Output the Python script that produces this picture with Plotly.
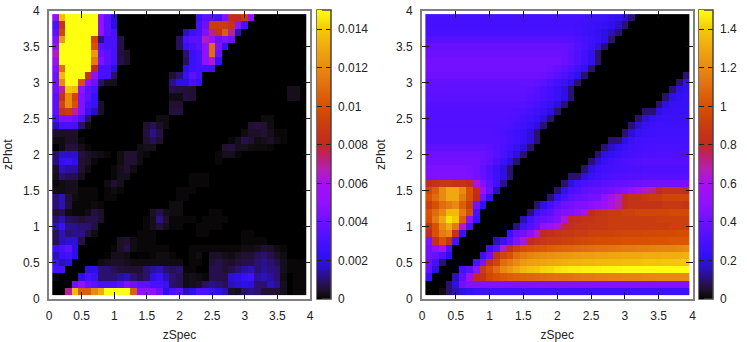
import plotly.graph_objects as go

zspec = [0.1, 0.2, 0.3, 0.4, 0.5, 0.6, 0.7, 0.8, 0.9, 1.0, 1.1, 1.2, 1.3, 1.4, 1.5, 1.6, 1.7, 1.8, 1.9, 2.0,
         2.1, 2.2, 2.3, 2.4, 2.5, 2.6, 2.7, 2.8, 2.9, 3.0, 3.1, 3.2, 3.3, 3.4, 3.5, 3.6, 3.7, 3.8, 3.9]
zphot = zspec[::-1]  # rows below are listed from the top of the plot down

# left panel, in units of 0.001; trailing zeros are left off
left_rows = [
    [5,13.5,15,15,15,15,15,5,3.5,2,0,0,0,0,0,0,0,0,0,0,0,0,2.5,3.5,3.5,3,4.5,8,8,9,5],
    [3,8.5,15,15,15,15,15,5,3.5,2,0,0,0,0,0,0,0,0,0,0,0,0,3,4,9,9,9,8.5,5,3],
    [3.5,9.5,15,15,15,15,15,5,3.5,3,0,0,0,0,0,0,0,0,0,0,1.5,2.5,3,4.5,7,8.5,10.5,7,1.5],
    [4.5,12.5,15,15,15,15,9.5,1.2,3,3,.7,0,0,0,0,0,0,0,0,.8,3,3.5,3.5,6.5,5.5,4,4.5,4],
    [5,15,15,15,15,15,10,3.5,3,3,.7,0,0,0,0,0,0,0,0,.8,2.5,3,3.5,5,11,4.5,2.5],
    [6.5,15,15,15,15,15,12.5,4,3.5,3,.6,.4,0,0,0,0,0,0,0,0,1,2.5,3,5,11,4],
    [5.5,15,15,15,15,15,11.5,4.5,3.5,3,.7,.4,0,0,0,0,0,0,0,0,.8,2.5,3,5,6.5,2.5],
    [4.5,11,15,15,15,15,8,3,3,2,0,0,0,0,0,0,0,0,0,0,2,2.5,2.8,2.8,2.8],
    [4,13.5,15,15,15,8.5,5,3,3,1,0,0,0,0,0,0,0,0,.5,1,2.3,3.5,3],
    [4,12,15,15,10,5,4,1,.3,.3,0,0,0,0,0,0,0,0,1.2,2,2,3,2.5],
    [4,7,14,13.5,5,3.5,3,0,0,0,0,0,0,0,0,0,0,0,.7,.6,.6,.5,0,0,0,0,0,0,0,0,0,0,0,0,0,0,.3,.3],
    [3.5,8.5,12,9.5,4.5,3.5,2.5,0,0,0,0,0,0,0,0,0,0,0,.2,.2,.6,.5,0,0,0,0,0,0,0,0,0,0,0,0,0,0,.3,.3],
    [3.5,9.5,12,10,4.5,3,2.5,.4,0,0,0,0,0,0,0,0,0,0,.5,.5],
    [3.5,8.5,9,7,4.5,2.5,1.5,.4,0,0,0,0,0,0,0,0,0,0,.6,.6],
    [3,4.5,4.5,4,3,1,0,0,0,0,0,0,0,0,0,0,.2,.2,0,0,0,0,0,0,0,0,0,0,0,0,0,0,.15,.15],
    [1.5,3,3,2.8,1,.2,0,0,0,0,0,0,0,0,.5,.8,.4,.2,0,0,0,0,0,0,0,0,0,0,0,0,.5,.6,.5,.2],
    [.4,.4,.4,.4,0,0,0,0,0,0,0,0,0,0,.6,1.2,.7,0,0,0,0,0,0,0,0,0,0,0,0,.2,.4,.4,.5,.3,.1,.1],
    [.2,.2,.4,.4,.1,0,0,0,0,0,0,0,0,0,.5,.8,.5,0,0,0,0,0,0,0,0,0,0,.1,.3,.7,.5,.2,.3,.4,.2,.1],
    [0,.2,.6,.6,.3,.1,0,0,0,0,0,0,0,.2,.3,.3,0,0,0,0,0,0,0,0,0,0,.5,.6,.3,.3,.2,.15,.15,.1],
    [1,1.7,1.7,1.7,.6,.4,.3,.2,.1,0,.2,.5,.5,.2,.1,0,0,0,0,0,0,0,0,0,0,.1,.3,.3,.1],
    [1,2.2,2.5,2,.5,.4,.1,0,0,0,.2,.5,.5,.2,0,0,0,0,0,0,0,0,0,0,0,.1],
    [.4,1.5,1.3,1.3,.5,.2,0,0,0,.1,.3,.5,.2],
    [.3,1,.7,.7,.3,0,0,0,0,.1,.3,.3,0,0,0,0,0,0,0,0,0,.1,.1,.1],
    [.1,.2,.3,.3,0,0,0,0,.2,.5,.3,0,0,0,0,0,0,0,0,0,0,.1,.1,.1],
    [.2,.2,.3,.3,.1,.1,.1,0,.1,.2,.1,0,0,0,0,0,0,0,0,.1,.1,.1],
    [1,1.5,.5,.2,.1,.1,.1,0,.1,.1,0,0,0,0,0,0,0,0,0,.1,.1],
    [1,1.5,.6,.1,.1,.1,.15,.1,0,0,0,0,0,0,0,0,0,0,.2,.2],
    [.5,.7,.2,.1,.1,.2,.6,.4,0,0,0,0,0,0,0,.4,.7,.3,.2,.2,0,0,0,0,.1,.1],
    [1,1.5,.8,.7,.5,.7,.7,.4,0,0,0,0,0,0,.1,.3,1.2,.5,.1,.1,.1,.1,0,.1,.1,.1,.1],
    [1.5,2.5,1.2,1.2,1,1,.6,0,0,0,0,0,0,0,.1,.3,.6,.3,.1,.1,0,0,.1,.1,.1,.1],
    [.8,1.5,1,1.2,1.2,.6,.2,0,0,0,0,0,0,.1,.1,.1,0,0,0,0,0,0,.1,.1,0,0,0,0,0,.1,.1],
    [.8,1.5,1.8,1.8,.7,0,0,0,0,0,.4,.5,.2,.1,.1,.1,0,0,0,0,0,0,0,0,0,0,0,0,0,.1,.1,.1,.1],
    [2.5,3,3.5,2,0,0,0,0,0,.1,.4,.7,.2,.1,.1,.1,.1,.1,0,0,0,.1,.1,.1,.1,.1,.1,.1,.1,.2,.2,.3,.5,.4,.2,.1],
    [1.5,2.5,2.8,2,0,0,0,0,.05,.3,.3,.2,0,.05,.05,.1,.2,.2,.1,0,0,.1,.2,0,.4,.4,.3,.2,.4,.5,.5,.8,1,.7,.4,.2],
    [2.5,1.5,2,0,0,0,0,.2,.3,.4,.4,.3,.2,.2,.2,.2,.2,.2,.2,.2,0,.1,.1,0,.5,.7,.5,.4,.6,.7,.7,1,1.2,1,.7,.3,.1,.1,.1],
    [3,3,0,0,0,2,2,1,1,.8,.6,.5,.5,.5,1,1.3,1.5,1,.8,1,.1,.1,0,0,.7,.7,.5,.7,1,1.3,1.5,1,1.3,1.1,1,.3,.1,.1,.1],
    [.1,0,0,0,2,3,2.5,1,1,1,1.3,1.5,1,.7,1,2,2.5,1.5,1,.8,.2,.3,.2,.1,.7,.7,.7,1.8,2,2.3,2.8,1.3,1.5,1.3,1,.2,0,.1,.1],
    [0,0,0,4,5,4,3.5,3,3,3,3.5,4.5,4,3.5,3.5,3,3,2.5,1,.8,.2,.3,.4,.9,1.2,1,.8,1.5,1.8,2,1.8,1,1,1.5,1.2,.3,0,.1,.1],
    [0,0,7,13.5,10.5,10.5,12,13,15,15,15,15,10.5,5,5,5,4,2,3,3.5,1.5,2,3,3,2.5,2,1.5,.4,.3,1,1.2,1,.5,.5,.5,.3,0,.1,.1],
]

# right panel, same row order
right_rows = [
    [.29,.29,.29,.29,.29,.29,.29,.29,.29,.29,.29,.29,.29,.29,.29,.29,.29,.29,.29,.29,.29,.29,.29,.28,.27,.27,.26,.24,.22,.18,.1],
    [.29,.29,.29,.29,.29,.29,.29,.29,.29,.29,.29,.29,.29,.29,.29,.29,.29,.29,.29,.29,.29,.29,.28,.27,.26,.25,.24,.21,.17,.1],
    [.3,.3,.3,.3,.3,.3,.3,.3,.3,.3,.3,.3,.3,.3,.3,.3,.3,.3,.3,.3,.3,.3,.29,.27,.25,.23,.2,.15,.1],
    [.34,.34,.34,.34,.34,.34,.34,.34,.34,.34,.34,.34,.34,.34,.34,.34,.34,.34,.34,.34,.34,.33,.31,.29,.27,.24,.2,.1],
    [.38,.38,.38,.38,.38,.38,.38,.38,.38,.38,.38,.38,.38,.38,.38,.38,.38,.38,.38,.38,.38,.36,.33,.3,.26,.2,.1],
    [.4,.4,.4,.4,.4,.4,.4,.4,.4,.4,.4,.4,.4,.4,.4,.4,.4,.4,.4,.4,.38,.35,.32,.28,.22,.1],
    [.41,.41,.41,.41,.41,.41,.41,.41,.41,.41,.41,.41,.41,.41,.41,.41,.41,.41,.41,.41,.39,.36,.32,.28,.22,.1],
    [.41,.41,.41,.41,.41,.41,.41,.41,.41,.41,.41,.41,.41,.41,.41,.41,.41,.41,.4,.38,.35,.32,.28,.22,.1],
    [.4,.4,.4,.4,.4,.4,.4,.4,.4,.4,.4,.4,.4,.4,.4,.4,.4,.39,.37,.34,.31,.27,.21,.1,0,0,0,0,0,0,0,0,0,0,0,0,0,0,.1],
    [.37,.37,.37,.37,.37,.37,.37,.37,.37,.37,.37,.37,.37,.37,.37,.37,.36,.35,.32,.29,.26,.2,.1,0,0,0,0,0,0,0,0,0,0,0,0,0,0,.1,.22],
    [.36,.36,.36,.36,.36,.36,.36,.36,.36,.36,.36,.36,.36,.36,.36,.35,.34,.31,.28,.25,.2,.1,0,0,0,0,0,0,0,0,0,0,0,0,0,0,.1,.2,.22],
    [.35,.35,.35,.35,.35,.35,.35,.35,.35,.35,.35,.35,.35,.35,.35,.34,.33,.31,.28,.25,.2,.1,0,0,0,0,0,0,0,0,0,0,0,0,0,.1,.2,.22,.24],
    [.34,.34,.34,.34,.34,.34,.34,.34,.34,.34,.34,.34,.34,.34,.33,.32,.3,.27,.24,.19,.1,0,0,0,0,0,0,0,0,0,0,0,0,0,.1,.2,.24,.24,.24],
    [.33,.33,.33,.33,.33,.33,.33,.33,.33,.33,.33,.33,.33,.32,.31,.29,.27,.24,.19,.1,0,0,0,0,0,0,0,0,0,0,0,0,.1,.1,.2,.24,.25,.25,.25],
    [.33,.33,.33,.33,.33,.33,.33,.33,.33,.33,.33,.33,.32,.31,.29,.27,.24,.19,.1,0,0,0,0,0,0,0,0,0,0,0,0,.1,.18,.22,.25,.26,.26,.26,.26],
    [.32,.32,.32,.32,.32,.32,.32,.32,.32,.32,.32,.32,.31,.29,.27,.24,.19,.1,0,0,0,0,0,0,0,0,0,0,0,0,.1,.18,.24,.26,.27,.27,.27,.27,.27],
    [.33,.33,.33,.33,.33,.33,.33,.33,.33,.33,.32,.31,.29,.27,.24,.19,.1,0,0,0,0,0,0,0,0,0,0,0,0,.1,.18,.24,.27,.27,.28,.28,.28,.28,.28],
    [.33,.33,.33,.33,.33,.33,.33,.33,.33,.33,.33,.32,.3,.28,.24,.19,.1,0,0,0,0,0,0,0,0,0,0,.1,.1,.2,.25,.28,.28,.29,.29,.29,.29,.29,.29],
    [.36,.36,.36,.36,.36,.36,.36,.36,.36,.35,.33,.31,.28,.24,.19,.1,0,0,0,0,0,0,0,0,0,0,.1,.17,.22,.25,.28,.29,.3,.3,.3,.3,.3,.3,.3],
    [.4,.4,.4,.4,.4,.4,.4,.4,.39,.37,.34,.3,.25,.19,.1,0,0,0,0,0,0,0,0,0,0,.1,.2,.22,.25,.28,.29,.3,.31,.31,.32,.32,.32,.32,.32],
    [.42,.42,.42,.42,.42,.42,.42,.41,.39,.36,.31,.26,.19,.1,0,0,0,0,0,0,0,0,0,0,.1,.18,.24,.28,.3,.31,.32,.33,.34,.34,.34,.34,.34,.34,.34],
    [.44,.44,.44,.44,.44,.44,.43,.41,.37,.32,.26,.19,.1,0,0,0,0,0,0,0,0,0,0,.1,.2,.25,.28,.29,.3,.3,.31,.31,.32,.32,.32,.32,.32,.32,.32],
    [.45,.45,.45,.45,.45,.45,.44,.42,.38,.33,.27,.2,.1,0,0,0,0,0,0,0,0,.1,.1,.2,.25,.28,.3,.31,.32,.32,.33,.33,.34,.34,.34,.34,.34,.34,.34],
    [.8,.85,.88,.88,.85,.85,.8,.62,.45,.35,.28,.12,0,0,0,0,0,0,0,0,.1,.2,.27,.3,.32,.33,.35,.36,.37,.38,.39,.4,.41,.42,.42,.42,.42,.42,.42],
    [.95,1.05,1.2,1.3,1.3,1.2,1,.82,.55,.38,.15,0,0,0,0,0,0,0,0,.1,.22,.3,.32,.35,.38,.38,.4,.42,.45,.48,.55,.6,.65,.7,.8,.85,.85,.85,.82],
    [1,1.1,1.2,1.3,1.3,1.15,1,.8,.42,.22,0,0,0,0,0,0,0,0,.1,.22,.3,.35,.38,.4,.42,.42,.5,.6,.65,.8,.85,.85,.88,.9,.9,.95,.95,.95,.95],
    [.9,1,1.1,1.15,1.2,1.05,.9,.42,.22,0,0,0,0,0,0,0,.1,.2,.28,.35,.4,.42,.45,.45,.48,.5,.55,.62,.68,.8,.85,.85,.85,.85,.85,.88,.88,.88,.85],
    [1,1.1,1.2,1.35,1.35,1.15,.98,.3,0,0,0,0,0,0,0,.1,.25,.32,.35,.42,.45,.45,.5,.6,.8,.85,.88,.9,.9,.92,.92,.95,.95,.95,.95,.95,.97,.97,.97],
    [.98,1.15,1.3,1.45,1.4,1.05,.5,.25,0,0,0,0,0,0,.15,.28,.35,.38,.42,.45,.62,.8,.82,.85,.85,.88,.88,.9,.9,.9,.9,.9,.9,.9,.92,.92,.92,.92,.92],
    [.85,1,1.2,1.3,1.15,.65,.3,0,0,0,0,0,0,.12,.28,.33,.38,.5,.55,.62,.78,.82,.85,.85,.87,.88,.88,.9,.9,.9,.9,.9,.9,.9,.9,.9,.92,.92,.92],
    [.8,1,1.15,1.2,.85,.25,0,0,0,0,0,0,.25,.38,.42,.48,.65,.8,.82,.85,.87,.88,.9,.9,.92,.92,.93,.93,.94,.95,.95,.95,.96,.96,.97,.97,.97,.98,.98],
    [.45,.85,1,.85,.3,0,0,0,0,0,.15,.25,.35,.45,.62,.8,.85,.87,.9,.9,.92,.93,.95,.96,.97,.98,.98,.99,.99,1,1,1,1,1.01,1.01,1.01,1.02,1.02,1.02],
    [.42,.5,.6,.3,0,0,0,0,0,.25,.35,.65,.82,.92,.98,1,1.02,1.03,1.05,1.06,1.07,1.08,1.09,1.1,1.11,1.12,1.12,1.13,1.14,1.15,1.15,1.16,1.16,1.17,1.18,1.18,1.18,1.19,1.2],
    [.42,.38,.32,.2,0,0,0,0,.25,.4,.82,.95,1,1.1,1.15,1.18,1.2,1.21,1.22,1.23,1.24,1.25,1.26,1.27,1.27,1.28,1.28,1.29,1.29,1.3,1.3,1.3,1.31,1.31,1.31,1.32,1.32,1.32,1.33],
    [.4,.28,.1,0,0,0,0,.3,.45,.85,.95,1.1,1.15,1.2,1.25,1.27,1.28,1.29,1.3,1.31,1.32,1.33,1.33,1.34,1.34,1.35,1.35,1.36,1.36,1.37,1.37,1.37,1.38,1.38,1.38,1.39,1.39,1.4,1.4],
    [.38,.2,0,0,0,.3,.35,.5,.9,1,1.1,1.2,1.25,1.3,1.35,1.38,1.4,1.42,1.43,1.45,1.46,1.47,1.47,1.48,1.48,1.48,1.49,1.49,1.49,1.5,1.5,1.5,1.5,1.5,1.5,1.5,1.5,1.5,1.5],
    [.25,0,0,0,.15,.35,.55,.8,.85,.95,1,1.03,1.05,1.06,1.07,1.08,1.09,1.1,1.11,1.12,1.12,1.13,1.14,1.15,1.15,1.16,1.16,1.17,1.17,1.18,1.18,1.18,1.19,1.19,1.2,1.2,1.2,1.2,1.2],
    [0,0,0,.1,.2,.42,.46,.46,.46,.46,.46,.46,.46,.46,.46,.46,.46,.46,.46,.46,.46,.46,.46,.46,.46,.46,.46,.46,.46,.46,.46,.46,.46,.46,.46,.46,.46,.46,.46],
    [0,0,.02,.1,.15,.2,.22,.24,.25,.26,.27,.27,.27,.27,.27,.27,.27,.27,.27,.27,.27,.27,.27,.27,.27,.27,.27,.27,.27,.27,.27,.27,.27,.27,.27,.27,.27,.27,.27],
]

left_z = [[v / 1000 for v in row + [0] * (39 - len(row))] for row in left_rows]
right_z = [row + [0] * (39 - len(row)) for row in right_rows]

left_ticks = [0, 0.002, 0.004, 0.006, 0.008, 0.01, 0.012, 0.014]
right_ticks = [0, 0.2, 0.4, 0.6, 0.8, 1, 1.2, 1.4]

palette = [
    [0, "#000000"], [0.01, "#0e0b0c"], [0.03, "#20102c"], [0.067, "#2a1070"], [0.1, "#2c10b8"], [0.14, "#2e10f0"],
    [0.2, "#4810ff"], [0.27, "#7010ff"], [0.33, "#9010ff"], [0.4, "#a810f0"], [0.45, "#b420b0"], [0.5, "#c02060"],
    [0.533, "#c02a20"], [0.6, "#c83c10"], [0.667, "#d85000"], [0.733, "#e06c10"], [0.8, "#e88a10"],
    [0.867, "#f0a810"], [0.933, "#f4c808"], [1, "#ffff10"],
]

W, H = 747, 342
FONT = "Liberation Sans"


def fx(px):
    return px / W


def fy(px):
    return 1 - px / H


def bar(x_px, ticks):
    return dict(
        x=fx(x_px), xanchor="left", xpad=0, y=fy(299), yanchor="bottom", ypad=0,
        len=(299 - 10.5) / H, lenmode="fraction", thickness=13.5, thicknessmode="pixels",
        outlinecolor="#444444", outlinewidth=1.5,
        ticks="inside", ticklen=5, tickcolor="#222222", tickwidth=1,
        tickvals=ticks, ticktext=["\u00a0" + str(t) for t in ticks],
        tickfont=dict(family=FONT, size=12, color="#222222"),
    )


def left_dashes(x_px, ticks):
    # thin second bar over the left edge of the main one, gives the left half of the tick dashes
    return dict(
        x=fx(x_px), xanchor="left", xpad=0, y=fy(299), yanchor="bottom", ypad=0,
        len=(299 - 10.5) / H, lenmode="fraction", thickness=5, thicknessmode="pixels",
        outlinewidth=0, ticks="inside", ticklen=5, tickcolor="#222222", tickwidth=1,
        tickvals=ticks, showticklabels=False,
    )


data = [
    go.Heatmap(x=zspec, y=zphot, z=left_z, zmin=0, zmax=0.015, colorscale=palette,
               colorbar=bar(316.7, left_ticks), xaxis="x", yaxis="y"),
    go.Heatmap(x=zspec, y=zphot, z=right_z, zmin=0, zmax=1.5, colorscale=palette,
               colorbar=bar(699, right_ticks), xaxis="x2", yaxis="y2"),
    # single cells off the axes, they only carry the second colour bars
    go.Heatmap(x=[5], y=[5], z=[[0]], zmin=0, zmax=0.015, colorscale=palette,
               colorbar=left_dashes(316.7, left_ticks), xaxis="x", yaxis="y", hoverinfo="skip"),
    go.Heatmap(x=[5], y=[5], z=[[0]], zmin=0, zmax=1.5, colorscale=palette,
               colorbar=left_dashes(699, right_ticks), xaxis="x2", yaxis="y2", hoverinfo="skip"),
]

axis_style = dict(
    range=[0, 4], dtick=0.5, tick0=0, ticks="inside", ticklen=7, tickcolor="#111111", tickwidth=1,
    showline=True, linecolor="#808080", linewidth=2, mirror="allticks", showgrid=False, zeroline=False,
    automargin=False, ticklabelstandoff=5, tickfont=dict(family=FONT, size=12, color="#222222"),
)
title_font = dict(family=FONT, size=12, color="#222222")

layout = go.Layout(
    width=W, height=H, autosize=False, margin=dict(l=0, r=0, t=0, b=0, autoexpand=False),
    paper_bgcolor="white", plot_bgcolor="white", showlegend=False,
    xaxis=dict(domain=[fx(49), fx(310)], anchor="y", title=dict(text="zSpec", font=title_font, standoff=13), **axis_style),
    yaxis=dict(domain=[fy(299), fy(10.5)], anchor="x", title=dict(text="zPhot", font=title_font, standoff=8), **axis_style),
    xaxis2=dict(domain=[fx(422), fx(692.5)], anchor="y2", title=dict(text="zSpec", font=title_font, standoff=13), **axis_style),
    yaxis2=dict(domain=[fy(299), fy(10.5)], anchor="x2", title=dict(text="zPhot", font=title_font, standoff=8), **axis_style),
)
fig = go.Figure(data=data, layout=layout)
fig.write_html("out.html", post_script="document.body.style.margin='0';", config={"displayModeBar": False})
